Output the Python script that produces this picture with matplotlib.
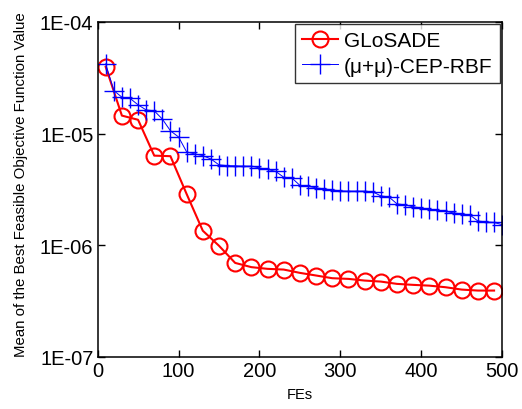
import matplotlib
matplotlib.use('Agg')
import matplotlib.pyplot as plt
import numpy as np

plt.rcParams['font.family'] = ['Liberation Sans', 'DejaVu Sans']

# GLoSADE, one point every 20 FEs
glosade_fes = [10, 30, 50, 70, 90, 110, 130, 150, 170, 190, 210, 230, 250,
               270, 290, 310, 330, 350, 370, 390, 410, 430, 450, 470, 490]
glosade_vals = [3.96e-5, 1.45e-5, 1.33e-5, 6.35e-6, 6.28e-6, 2.88e-6, 1.35e-6,
                9.9e-7, 6.95e-7, 6.37e-7, 6.15e-7, 6.06e-7, 5.66e-7, 5.36e-7,
                5.07e-7, 5.0e-7, 4.83e-7, 4.73e-7, 4.51e-7, 4.42e-7, 4.35e-7,
                4.21e-7, 4.01e-7, 3.93e-7, 3.93e-7]

# (mu+mu)-CEP-RBF, one point every 10 FEs
cep_fes = list(range(10, 501, 10))
cep_vals = [4.21e-5, 2.43e-5, 2.12e-5, 2.07e-5, 1.81e-5, 1.63e-5, 1.60e-5,
            1.35e-5, 1.06e-5, 9.34e-6, 6.86e-6, 6.58e-6, 6.35e-6, 5.93e-6,
            5.25e-6, 5.17e-6, 5.14e-6, 5.11e-6, 5.11e-6, 4.93e-6, 4.78e-6,
            4.59e-6, 4.07e-6, 4.01e-6, 3.44e-6, 3.37e-6, 3.27e-6, 3.20e-6,
            3.13e-6, 3.07e-6, 3.05e-6, 3.05e-6, 3.05e-6, 3.01e-6, 2.77e-6,
            2.71e-6, 2.35e-6, 2.30e-6, 2.21e-6, 2.16e-6, 2.10e-6, 2.05e-6,
            2.01e-6, 1.95e-6, 1.91e-6, 1.87e-6, 1.65e-6, 1.62e-6, 1.60e-6,
            1.53e-6]

x_ticks = [0, 100, 200, 300, 400, 500]
y_ticks = [1e-7, 1e-6, 1e-5, 1e-4]
y_tick_labels = ['1E-07', '1E-06', '1E-05', '1E-04']

fig = plt.figure(figsize=(5.22, 4.10), dpi=100)
ax = fig.add_axes([0.187, 0.127, 0.775, 0.817])

ax.plot(glosade_fes, glosade_vals, color='r', linewidth=1.5, marker='o',
        markersize=11.5, markerfacecolor='none', markeredgewidth=1.5,
        label='GLoSADE')
ax.plot(cep_fes, cep_vals, color='b', linewidth=0.7, marker='+',
        markersize=14, markeredgewidth=1.0, label='(μ+μ)-CEP-RBF')

ax.set_yscale('log')
ax.set_xlim(0, 500)
ax.set_ylim(1e-7, 1e-4)
ax.set_xticks(x_ticks)
ax.set_xticklabels([str(v) for v in x_ticks])
ax.set_yticks(y_ticks)
ax.set_yticklabels(y_tick_labels)
ax.yaxis.set_minor_locator(matplotlib.ticker.NullLocator())
ax.tick_params(direction='in', length=5, width=1, labelsize=14.5,
               top=True, right=True, pad=3)
for spine in ax.spines.values():
    spine.set_linewidth(1.1)

ax.set_xlabel('FEs', fontsize=10.5, labelpad=5)
ax.set_ylabel('Mean of the Best Feasible Objective Function Value',
              fontsize=10.8)
ax.yaxis.set_label_coords(-0.172, 0.518)

leg = ax.legend(loc='upper right', fontsize=15, frameon=True, fancybox=False,
                borderpad=0.35, handlelength=1.7, handletextpad=0.3,
                labelspacing=0.3, borderaxespad=0.1)
leg.get_frame().set_edgecolor('black')
leg.get_frame().set_linewidth(1.0)

fig.savefig('out.png', dpi=100)
